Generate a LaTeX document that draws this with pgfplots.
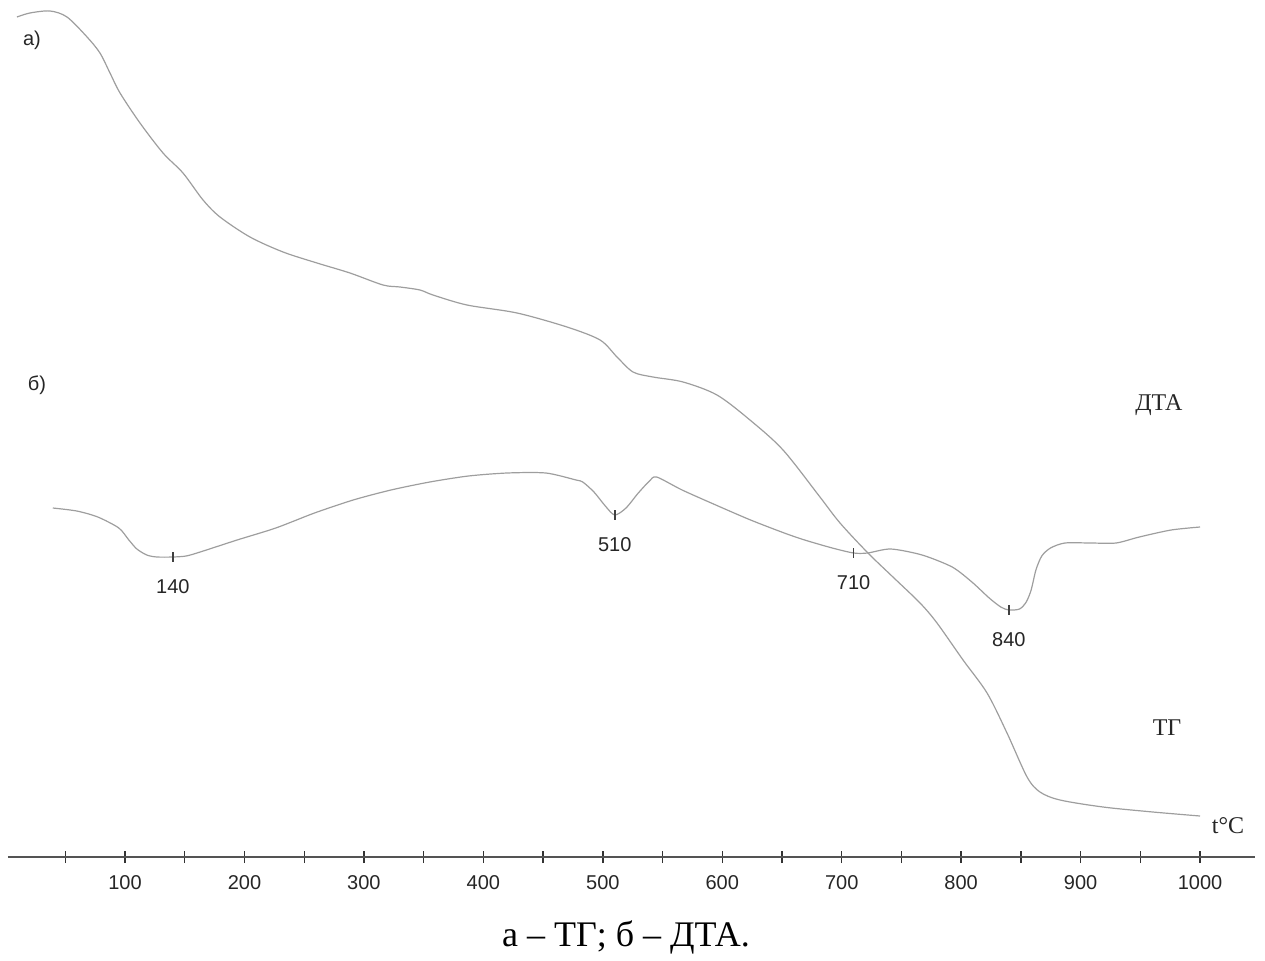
\documentclass[border=0pt]{standalone}
\usepackage{fontspec}
\setmainfont{Liberation Serif}
\newfontfamily\sansnum{Liberation Sans}
\usepackage{pgfplots}
\pgfplotsset{compat=1.18}

\definecolor{curve}{gray}{0.62}
\definecolor{axisline}{gray}{0.33}

\begin{document}
\begin{tikzpicture}
\begin{axis}[
  x=0.5972pt, y=0.5pt,
  xmin=2, xmax=1046, ymin=0, ymax=857,
  axis x line=bottom, axis y line=none,
  x axis line style={-, draw=axisline, line width=1pt},
  ytick=\empty,
  xtick={100,200,...,1000},
  minor xtick={50,150,...,950},
  xticklabels={100,200,300,400,500,600,700,800,900,1000},
  tick align=center,
  major tick length=6pt, minor tick length=6pt,
  tick style={draw=black!80, line width=0.7pt},
  xticklabel style={font=\sansnum\fontsize{10}{12}\selectfont, text=black!85, anchor=center, yshift=-10pt},
  /pgf/number format/assume math mode=true,
  clip=false,
]
% TG curve (a)
\addplot[curve, line width=0.6pt, smooth, tension=0.5] coordinates {
  (9.5,840) (20.4,844) (37.2,846) (51.4,840) (68.2,820) (79.0,804)
  (87.4,784) (95.8,764) (112.5,734) (131.8,704) (148.5,684) (165.3,657)
  (179.5,640) (204.6,620) (232.3,605) (260.7,594) (288.3,584) (316.0,572)
  (330.2,570) (346.9,567) (357.8,562) (386.3,552) (428.2,544) (470.0,530)
  (497.7,517) (511.9,500) (525.3,485) (542.0,480) (567.2,475) (595.6,462)
  (623.2,437) (650.9,407) (681.8,360) (698.6,334) (722.0,304) (742.9,280)
  (765.6,254) (779.8,234) (801.6,197) (821.7,164) (838.4,124) (855.2,80)
  (866.0,65) (882.8,57) (918.8,50) (960.6,45) (1000.0,41)
};
% DTA curve (b)
\addplot[curve, line width=0.6pt, smooth, tension=0.45] coordinates {
  (39.5,349) (59.6,346) (77.2,340) (94.8,329) (103.2,317) (109.9,308)
  (118.2,302) (126.6,300) (140.0,300) (151.1,301) (162.9,305) (193.8,317)
  (226.2,329) (258.6,344) (291.0,357) (322.6,367) (355.1,375) (387.5,381)
  (419.9,384) (452.3,384) (477.6,377) (483.2,375) (492.6,365) (502.1,351)
  (510.0,342) (519.4,349) (529.7,364) (539.1,376) (545.1,380) (566.4,367)
  (594.6,352) (623.7,337) (651.9,324) (669.0,317) (692.1,309) (710.0,304)
  (721.7,304) (741.1,308) (767.3,302) (792.5,290) (809.0,275) (823.5,259)
  (833.2,250) (840.0,247) (848.9,248) (854.5,255) (858.6,267) (862.6,287)
  (867.5,301) (874.8,309) (886.9,314) (908.7,314) (929.7,314) (949.1,320)
  (975.8,327) (1000.0,330)
};
% DTA peak marks with their temperatures
\addplot[only marks, mark=|, mark size=2.5pt, mark options={draw=black!75, line width=0.8pt},
  point meta=explicit symbolic, nodes near coords,
  every node near coord/.style={anchor=center, yshift=-15pt, font=\sansnum\fontsize{10}{12}\selectfont, text=black!85}]
  coordinates {
  (140,300) [140]
  (510,342) [510]
  (710,304) [710]
  (840,247) [840]
};
\node[font=\sansnum\fontsize{10}{12}\selectfont, text=black!85] at (axis cs:22.1,817) {а)};
\node[font=\sansnum\fontsize{10}{12}\selectfont, text=black!85] at (axis cs:26.3,472) {б)};
\node[font=\fontsize{12}{14}\selectfont, text=black!85] at (axis cs:965.6,452) {ДТА};
\node[font=\fontsize{12}{14}\selectfont, text=black!85] at (axis cs:972.4,129) {ТГ};
\node[font=\fontsize{12}{14}\selectfont, text=black!85] at (axis cs:1023.5,31) {t°C};
\node[font=\fontsize{18}{21}\selectfont] at (axis cs:519.4,-80) {а – ТГ; б – ДТА.};
\path (axis cs:-4.69,-96) rectangle (axis cs:1054.4,857);
\end{axis}
\end{tikzpicture}
\end{document}
